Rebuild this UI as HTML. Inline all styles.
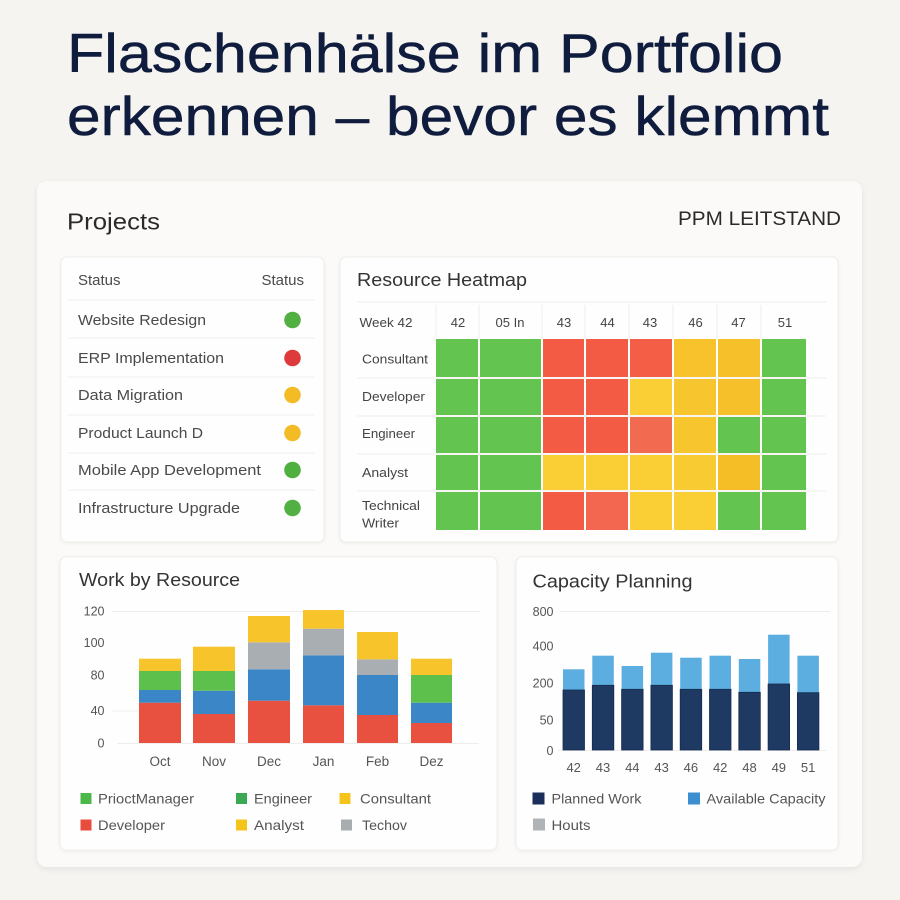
<!DOCTYPE html>
<html><head><meta charset="utf-8"><style>
html,body{margin:0;padding:0;background:#f5f4f1;}
svg{display:block;}
text{font-family:"Liberation Sans",Arial,sans-serif;}
</style></head><body>
<svg width="900" height="900" viewBox="0 0 900 900" xmlns="http://www.w3.org/2000/svg">
<defs>
<filter id="sh" x="-5%" y="-5%" width="110%" height="110%"><feDropShadow dx="0" dy="2" stdDeviation="3" flood-color="#000" flood-opacity="0.07"/></filter>
<filter id="sh2" x="-5%" y="-5%" width="110%" height="110%"><feDropShadow dx="0" dy="1" stdDeviation="1.5" flood-color="#000" flood-opacity="0.05"/></filter>
</defs>
<rect width="900" height="900" fill="#f5f4f1"/>
<!-- Title -->
<text x="67" y="72" font-size="55" fill="#101c3d" stroke="#101c3d" stroke-width="0.5" textLength="716" lengthAdjust="spacingAndGlyphs">Flaschenhälse im Portfolio</text>
<text x="67" y="135" font-size="55" fill="#101c3d" stroke="#101c3d" stroke-width="0.5" textLength="762" lengthAdjust="spacingAndGlyphs">erkennen – bevor es klemmt</text>

<!-- outer card -->
<rect x="37" y="181" width="825" height="686" rx="10" fill="#fbfaf8" filter="url(#sh)"/>
<text x="67" y="229.5" font-size="23" fill="#2a2a2a" textLength="93" lengthAdjust="spacingAndGlyphs">Projects</text>
<text x="841" y="225" font-size="19" fill="#2a2a2a" text-anchor="end" textLength="163" lengthAdjust="spacingAndGlyphs">PPM LEITSTAND</text>

<!-- inner cards -->
<rect x="61" y="257" width="263" height="285" rx="6" fill="#fefefe" stroke="#efede9" stroke-width="1" filter="url(#sh2)"/>
<rect x="340" y="257" width="498" height="285" rx="6" fill="#fefefe" stroke="#efede9" stroke-width="1" filter="url(#sh2)"/>
<rect x="60" y="557" width="437" height="293" rx="6" fill="#fefefe" stroke="#efede9" stroke-width="1" filter="url(#sh2)"/>
<rect x="516" y="557" width="322" height="293" rx="6" fill="#fefefe" stroke="#efede9" stroke-width="1" filter="url(#sh2)"/>

<!-- Projects list -->
<g font-size="15" fill="#4a4a4a">
<text x="78" y="285">Status</text>
<text x="304" y="285" text-anchor="end">Status</text>
<text x="78" y="325" textLength="128" lengthAdjust="spacingAndGlyphs">Website Redesign</text>
<text x="78" y="363" textLength="146" lengthAdjust="spacingAndGlyphs">ERP Implementation</text>
<text x="78" y="400" textLength="105" lengthAdjust="spacingAndGlyphs">Data Migration</text>
<text x="78" y="438" textLength="125" lengthAdjust="spacingAndGlyphs">Product Launch D</text>
<text x="78" y="475" textLength="183" lengthAdjust="spacingAndGlyphs">Mobile App Development</text>
<text x="78" y="513" textLength="162" lengthAdjust="spacingAndGlyphs">Infrastructure Upgrade</text>
</g>
<g stroke="#f0eeeb" stroke-width="1">
<line x1="68" y1="300" x2="315" y2="300"/>
<line x1="68" y1="338" x2="315" y2="338"/>
<line x1="68" y1="377" x2="315" y2="377"/>
<line x1="68" y1="415" x2="315" y2="415"/>
<line x1="68" y1="453" x2="315" y2="453"/>
<line x1="68" y1="490" x2="315" y2="490"/>
</g>
<circle cx="292.5" cy="320" r="8.3" fill="#52b043"/>
<circle cx="292.5" cy="358" r="8.3" fill="#dd3b3b"/>
<circle cx="292.5" cy="395" r="8.3" fill="#f3bb26"/>
<circle cx="292.5" cy="433" r="8.3" fill="#f3bb26"/>
<circle cx="292.5" cy="470" r="8.3" fill="#4faf3f"/>
<circle cx="292.5" cy="508" r="8.3" fill="#52b043"/>

<!-- Heatmap -->
<text x="357" y="286" font-size="18" fill="#333" textLength="170" lengthAdjust="spacingAndGlyphs">Resource Heatmap</text>
<g stroke="#f0eeeb" stroke-width="1">
<line x1="357" y1="302" x2="826" y2="302"/>
<line x1="357" y1="378" x2="826" y2="378"/>
<line x1="357" y1="416" x2="826" y2="416"/>
<line x1="357" y1="454" x2="826" y2="454"/>
<line x1="357" y1="491" x2="826" y2="491"/>
<line x1="436" y1="305" x2="436" y2="338"/>
<line x1="479" y1="305" x2="479" y2="338"/>
<line x1="542" y1="305" x2="542" y2="338"/>
<line x1="585" y1="305" x2="585" y2="338"/>
<line x1="629" y1="305" x2="629" y2="338"/>
<line x1="673" y1="305" x2="673" y2="338"/>
<line x1="717" y1="305" x2="717" y2="338"/>
<line x1="761" y1="305" x2="761" y2="338"/>
</g>
<g font-size="13" fill="#444" text-anchor="middle">
<text x="386" y="327" textLength="53" lengthAdjust="spacingAndGlyphs">Week 42</text>
<text x="458" y="327">42</text>
<text x="510" y="327">05 In</text>
<text x="564" y="327">43</text>
<text x="607.5" y="327">44</text>
<text x="650" y="327">43</text>
<text x="695.5" y="327">46</text>
<text x="738.5" y="327">47</text>
<text x="785" y="327">51</text>
</g>
<g font-size="13" fill="#444">
<text x="362" y="363.5" textLength="66" lengthAdjust="spacingAndGlyphs">Consultant</text>
<text x="362" y="401" textLength="63" lengthAdjust="spacingAndGlyphs">Developer</text>
<text x="362" y="438" textLength="53" lengthAdjust="spacingAndGlyphs">Engineer</text>
<text x="362" y="477" textLength="46" lengthAdjust="spacingAndGlyphs">Analyst</text>
<text x="362" y="510" textLength="58" lengthAdjust="spacingAndGlyphs">Technical</text>
<text x="362" y="527.5" textLength="37" lengthAdjust="spacingAndGlyphs">Writer</text>
</g>
<g>
<!-- row 1 Consultant -->
<rect x="436" y="339" width="42" height="38" fill="#63c44f"/>
<rect x="480" y="339" width="61" height="38" fill="#63c44f"/>
<rect x="543" y="339" width="41" height="38" fill="#f35b45"/>
<rect x="586" y="339" width="42" height="38" fill="#f35b45"/>
<rect x="630" y="339" width="42" height="38" fill="#f45e46"/>
<rect x="674" y="339" width="42" height="38" fill="#f7c22c"/>
<rect x="718" y="339" width="42" height="38" fill="#f6c02a"/>
<rect x="762" y="339" width="44" height="38" fill="#63c44f"/>
<!-- row 2 Developer -->
<rect x="436" y="379" width="42" height="36" fill="#63c44f"/>
<rect x="480" y="379" width="61" height="36" fill="#63c44f"/>
<rect x="543" y="379" width="41" height="36" fill="#f35b45"/>
<rect x="586" y="379" width="42" height="36" fill="#f35b45"/>
<rect x="630" y="379" width="42" height="36" fill="#f9cf35"/>
<rect x="674" y="379" width="42" height="36" fill="#f7c52e"/>
<rect x="718" y="379" width="42" height="36" fill="#f6c02a"/>
<rect x="762" y="379" width="44" height="36" fill="#63c44f"/>
<!-- row 3 Engineer -->
<rect x="436" y="417" width="42" height="36" fill="#63c44f"/>
<rect x="480" y="417" width="61" height="36" fill="#63c44f"/>
<rect x="543" y="417" width="41" height="36" fill="#f35b45"/>
<rect x="586" y="417" width="42" height="36" fill="#f35b45"/>
<rect x="630" y="417" width="42" height="36" fill="#f26b50"/>
<rect x="674" y="417" width="42" height="36" fill="#f7c52e"/>
<rect x="718" y="417" width="42" height="36" fill="#63c44f"/>
<rect x="762" y="417" width="44" height="36" fill="#63c44f"/>
<!-- row 4 Analyst -->
<rect x="436" y="455" width="42" height="35" fill="#63c44f"/>
<rect x="480" y="455" width="61" height="35" fill="#63c44f"/>
<rect x="543" y="455" width="41" height="35" fill="#f9cf35"/>
<rect x="586" y="455" width="42" height="35" fill="#f9cf35"/>
<rect x="630" y="455" width="42" height="35" fill="#f9cf35"/>
<rect x="674" y="455" width="42" height="35" fill="#f8cb32"/>
<rect x="718" y="455" width="42" height="35" fill="#f5bd26"/>
<rect x="762" y="455" width="44" height="35" fill="#63c44f"/>
<!-- row 5 Technical Writer -->
<rect x="436" y="492" width="42" height="38" fill="#63c44f"/>
<rect x="480" y="492" width="61" height="38" fill="#63c44f"/>
<rect x="543" y="492" width="41" height="38" fill="#f35b45"/>
<rect x="586" y="492" width="42" height="38" fill="#f36650"/>
<rect x="630" y="492" width="42" height="38" fill="#f9cf35"/>
<rect x="674" y="492" width="42" height="38" fill="#f9cf35"/>
<rect x="718" y="492" width="42" height="38" fill="#63c44f"/>
<rect x="762" y="492" width="44" height="38" fill="#63c44f"/>
</g>

<!-- Work by Resource -->
<text x="79" y="586" font-size="18" fill="#333" textLength="161" lengthAdjust="spacingAndGlyphs">Work by Resource</text>
<g stroke="#efedea" stroke-width="1">
<line x1="112" y1="611.5" x2="480" y2="611.5"/>
<line x1="112" y1="711" x2="140" y2="711"/>
<line x1="117" y1="743.5" x2="479" y2="743.5"/>
</g>
<g font-size="12.5" fill="#555" text-anchor="end">
<text x="104.5" y="615.5">120</text>
<text x="104.5" y="647">100</text>
<text x="104.5" y="679.5">80</text>
<text x="104.5" y="715">40</text>
<text x="104.5" y="747.5">0</text>
</g>
<g>
<!-- Oct -->
<rect x="139" y="702.7" width="42" height="40.3" fill="#e8503f"/>
<rect x="139" y="690" width="42" height="12.7" fill="#3a86c6"/>
<rect x="139" y="671" width="42" height="19" fill="#5dc04c"/>
<rect x="139" y="658.7" width="42" height="12.3" fill="#f7c52b"/>
<!-- Nov -->
<rect x="193" y="714" width="42" height="29" fill="#e8503f"/>
<rect x="193" y="690.7" width="42" height="23.3" fill="#3a86c6"/>
<rect x="193" y="671" width="42" height="19.7" fill="#5dc04c"/>
<rect x="193" y="646.7" width="42" height="24.3" fill="#f7c52b"/>
<!-- Dec -->
<rect x="248" y="700.7" width="42" height="42.3" fill="#e8503f"/>
<rect x="248" y="669.3" width="42" height="31.4" fill="#3a86c6"/>
<rect x="248" y="642.3" width="42" height="27" fill="#a9aeb2"/>
<rect x="248" y="616" width="42" height="26.3" fill="#f7c52b"/>
<!-- Jan -->
<rect x="303" y="705.3" width="41" height="37.7" fill="#e8503f"/>
<rect x="303" y="655.3" width="41" height="50" fill="#3a86c6"/>
<rect x="303" y="628.7" width="41" height="26.6" fill="#a9aeb2"/>
<rect x="303" y="610" width="41" height="18.7" fill="#f7c52b"/>
<!-- Feb -->
<rect x="357" y="715" width="41" height="28" fill="#e8503f"/>
<rect x="357" y="675" width="41" height="40" fill="#3a86c6"/>
<rect x="357" y="659.3" width="41" height="15.7" fill="#a9aeb2"/>
<rect x="357" y="632" width="41" height="27.3" fill="#f7c52b"/>
<!-- Dez -->
<rect x="411" y="723" width="41" height="20" fill="#e8503f"/>
<rect x="411" y="702.7" width="41" height="20.3" fill="#3a86c6"/>
<rect x="411" y="675" width="41" height="27.7" fill="#5dc04c"/>
<rect x="411" y="658.7" width="41" height="16.3" fill="#f7c52b"/>
</g>
<g font-size="13.5" fill="#555" text-anchor="middle">
<text x="160" y="766">Oct</text>
<text x="214" y="766">Nov</text>
<text x="269" y="766">Dec</text>
<text x="323.5" y="766">Jan</text>
<text x="377.5" y="766">Feb</text>
<text x="431.5" y="766">Dez</text>
</g>
<g>
<rect x="80.5" y="793" width="11" height="11" fill="#4cb84a"/>
<rect x="236" y="793" width="11" height="11" fill="#3ba853"/>
<rect x="339.5" y="793" width="11" height="11" fill="#f5c41c"/>
<rect x="80.5" y="819.5" width="11" height="11" fill="#e84c3d"/>
<rect x="236" y="819.5" width="11" height="11" fill="#f5c41c"/>
<rect x="341" y="819.5" width="11" height="11" fill="#a8adb0"/>
</g>
<g font-size="14" fill="#555">
<text x="98" y="803.5" textLength="96" lengthAdjust="spacingAndGlyphs">PriоctManager</text>
<text x="254" y="803.5" textLength="58" lengthAdjust="spacingAndGlyphs">Engineer</text>
<text x="360" y="803.5" textLength="71" lengthAdjust="spacingAndGlyphs">Consultant</text>
<text x="98" y="830" textLength="67" lengthAdjust="spacingAndGlyphs">Developer</text>
<text x="254" y="830" textLength="50" lengthAdjust="spacingAndGlyphs">Analyst</text>
<text x="362" y="830" textLength="45" lengthAdjust="spacingAndGlyphs">Techov</text>
</g>

<!-- Capacity Planning -->
<text x="532.5" y="587.5" font-size="18" fill="#333" textLength="160" lengthAdjust="spacingAndGlyphs">Capacity Planning</text>
<g stroke="#efedea" stroke-width="1">
<line x1="560" y1="611.5" x2="830" y2="611.5"/>
<line x1="558" y1="750.5" x2="826" y2="750.5"/>
</g>
<g font-size="12.5" fill="#555" text-anchor="end">
<text x="553.5" y="616">800</text>
<text x="553.5" y="650.5">400</text>
<text x="553.5" y="687.5">200</text>
<text x="553.5" y="724.5">50</text>
<text x="553.5" y="755">0</text>
</g>
<g>
<rect x="563" y="669.3" width="21.5" height="20.7" fill="#5cade0"/>
<rect x="563" y="690" width="21.5" height="60" fill="#1e3a63" stroke="#142c52" stroke-width="0.8"/>
<rect x="592.3" y="655.7" width="21.5" height="29.6" fill="#5cade0"/>
<rect x="592.3" y="685.3" width="21.5" height="64.7" fill="#1e3a63" stroke="#142c52" stroke-width="0.8"/>
<rect x="621.6" y="666" width="21.5" height="23.3" fill="#5cade0"/>
<rect x="621.6" y="689.3" width="21.5" height="60.7" fill="#1e3a63" stroke="#142c52" stroke-width="0.8"/>
<rect x="650.9" y="652.7" width="21.5" height="32.6" fill="#5cade0"/>
<rect x="650.9" y="685.3" width="21.5" height="64.7" fill="#1e3a63" stroke="#142c52" stroke-width="0.8"/>
<rect x="680.2" y="657.7" width="21.5" height="31.6" fill="#5cade0"/>
<rect x="680.2" y="689.3" width="21.5" height="60.7" fill="#1e3a63" stroke="#142c52" stroke-width="0.8"/>
<rect x="709.5" y="655.7" width="21.5" height="33.6" fill="#5cade0"/>
<rect x="709.5" y="689.3" width="21.5" height="60.7" fill="#1e3a63" stroke="#142c52" stroke-width="0.8"/>
<rect x="738.8" y="659" width="21.5" height="33.3" fill="#5cade0"/>
<rect x="738.8" y="692.3" width="21.5" height="57.7" fill="#1e3a63" stroke="#142c52" stroke-width="0.8"/>
<rect x="768.1" y="634.7" width="21.5" height="49.3" fill="#5cade0"/>
<rect x="768.1" y="684" width="21.5" height="66" fill="#1e3a63" stroke="#142c52" stroke-width="0.8"/>
<rect x="797.4" y="655.7" width="21.5" height="37" fill="#5cade0"/>
<rect x="797.4" y="692.7" width="21.5" height="57.3" fill="#1e3a63" stroke="#142c52" stroke-width="0.8"/>
</g>
<g font-size="13" fill="#555" text-anchor="middle">
<text x="573.7" y="772">42</text>
<text x="603" y="772">43</text>
<text x="632.3" y="772">44</text>
<text x="661.6" y="772">43</text>
<text x="690.9" y="772">46</text>
<text x="720.2" y="772">42</text>
<text x="749.5" y="772">48</text>
<text x="778.8" y="772">49</text>
<text x="808.1" y="772">51</text>
</g>
<rect x="532.5" y="792.5" width="12" height="12" fill="#1b2f5a"/>
<rect x="688" y="792.5" width="12" height="12" fill="#3b8fd0"/>
<rect x="533" y="818.5" width="12" height="12" fill="#b1b4b7"/>
<g font-size="14" fill="#555">
<text x="551.5" y="803.5" textLength="90" lengthAdjust="spacingAndGlyphs">Planned Work</text>
<text x="706.5" y="803.5" textLength="119" lengthAdjust="spacingAndGlyphs">Available Capacity</text>
<text x="551.5" y="830" textLength="39" lengthAdjust="spacingAndGlyphs">Houts</text>
</g>
</svg>
</body></html>
